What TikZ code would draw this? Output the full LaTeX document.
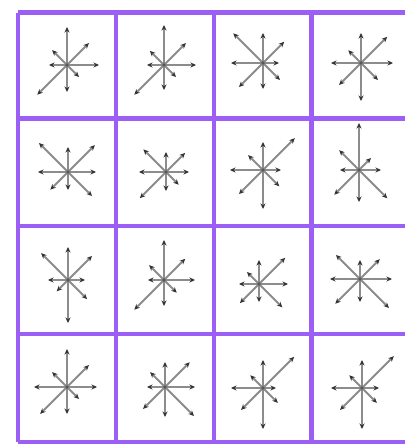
\documentclass[tikz,border=0pt]{standalone}
\usepackage{tikz}
\usetikzlibrary{arrows.meta}
\definecolor{gridpurple}{RGB}{155,95,245}
\definecolor{shaftgray}{RGB}{140,140,140}
\tikzset{
  gridline/.style={line width=0.1cm,gridpurple,line cap=square},
  grad/.style={line width=0.038cm,shaftgray,
    -{Stealth[length=0.11cm,width=0.1cm,color=black!80]}},
}
% star of 8 gradient arrows: centre x, centre y, lengths from 0 deg counterclockwise
\newcommand{\gradstar}[3]{%
  \foreach \r [count=\i from 0] in {#3}
    \draw[grad] (#1,#2) -- ++(\i*45:\r);
  \fill[black!65] (#1,#2) circle (1.8);
}

\begin{document}
\begin{tikzpicture}[x=0.02cm,y=0.02cm]
\useasboundingbox (0,0) rectangle (405,444);
\fill[white] (0,0) rectangle (405,444);
% cell borders
\foreach \gx in {18,116,214,311.5}
  \draw[gridline] (\gx,2) -- (\gx,431.5);
\foreach \gy in {431.5,325.5,218,110,2}
  \draw[gridline] (18,\gy) -- (412,\gy);
% row 1
\gradstar{67}{379}{32,31,38,21,18,42,27,17}
\gradstar{164}{379}{32,31,40,20,17,42,25,17}
\gradstar{263}{381}{16,30,30,42,32,34,26,24}
\gradstar{361}{381}{32,37,30,18,30,31,38,24}
% row 2
\gradstar{68}{272}{28,38,25,41,30,25,18,34}
\gradstar{166}{272}{23,27,20,32,27,37,19,18}
\gradstar{263}{274}{18,45,28,21,33,34,39,23}
\gradstar{359}{274}{22,17,47,28,19,35,32,40}
% row 3
\gradstar{68}{164}{17,34,33,38,20,16,43,27}
\gradstar{164}{164}{31,30,40,21,16,42,26,18}
\gradstar{259}{160}{29,37,24,17,20,27,18,33}
\gradstar{360}{165}{32,28,19,34,30,35,23,41}
% row 4
\gradstar{67}{57}{30,31,38,21,33,38,27,17}
\gradstar{165}{57}{30,35,25,21,18,31,30,41}
\gradstar{263}{56}{13,44,28,18,32,31,41,21}
\gradstar{362}{56}{17,45,28,18,31,31,41,21}
\end{tikzpicture}
\end{document}
